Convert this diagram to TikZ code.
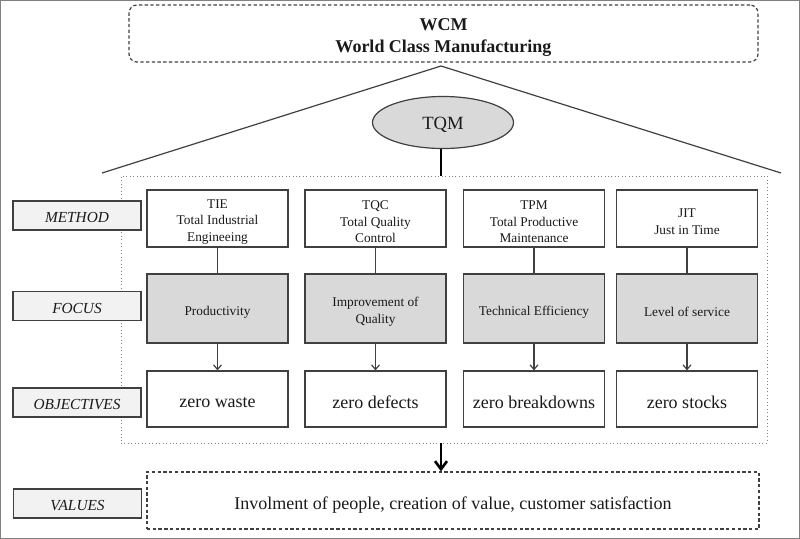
\documentclass[tikz,border=0pt]{standalone}
\usepackage{fontspec}
\setmainfont{Liberation Serif}
\usetikzlibrary{arrows.meta,shapes.geometric,shadows}
\definecolor{bordc}{HTML}{404040}
\definecolor{txtc}{HTML}{1A1A1A}
\definecolor{focfill}{HTML}{D9D9D9}
\definecolor{labfill}{HTML}{F2F2F2}
\definecolor{framec}{HTML}{808080}
\tikzset{
  every node/.style={text=txtc, inner sep=0pt, align=center},
  txtlab/.style={yshift=-2.6pt, align=center, inner sep=0pt, text=txtc},
  smalltext/.style={label={[txtlab, font=\fontsize{10}{12.5}\selectfont]center:{#1}}},
  bigtext/.style={label={[txtlab, font=\fontsize{13.5}{16}\selectfont]center:{#1}}},
  itext/.style={label={[txtlab, yshift=0.8pt, font=\fontsize{11.5}{14}\selectfont\itshape]center:{#1}}},
  methbox/.style={draw=bordc, line width=0.9pt, fill=white, minimum width=105.75pt, minimum height=42.75pt},
  focbox/.style={draw=bordc, line width=0.9pt, fill=focfill, minimum width=105.75pt, minimum height=51.75pt},
  objbox/.style={draw=bordc, line width=0.9pt, fill=white, minimum width=105.75pt, minimum height=42pt},
  labbox/.style={draw=bordc, line width=0.9pt, fill=labfill, minimum width=96pt, minimum height=21.75pt, drop shadow={shadow xshift=0.6pt, shadow yshift=-0.6pt, fill=black!45, opacity=0.6}},
  dashbox/.style={draw=bordc, dashed, dash pattern=on 2.5pt off 1.8pt, line width=0.9pt},
  link/.style={draw=bordc, line width=0.9pt},
  linkarrow/.style={draw=bordc, line width=0.9pt, -{Straight Barb[length=3.5pt,width=6pt]}},
}
\begin{document}
\begin{tikzpicture}[x=0.75pt,y=-0.75pt]
\useasboundingbox (0,0) rectangle (800,539);
\draw[framec, line width=1pt] (0.7,0.7) rectangle (799.3,538.3);

% WCM box
\node[dashbox, rounded corners=6pt, minimum width=471.75pt, minimum height=42.75pt,
  label={[txtlab, yshift=-0.4pt, font=\fontsize{13.5}{16.5}\selectfont\bfseries]center:{WCM\\World Class Manufacturing}}] (wcm) at (443.5,33.5) {};

% roof
\coordinate (apex) at (441,66);
\coordinate (roofL) at (102,173);
\coordinate (roofR) at (781,173);
\draw[bordc, line width=0.9pt] (roofL) -- (apex) -- (roofR);

% dotted container
\node[draw=framec, dotted, line width=0.6pt, minimum width=484.5pt, minimum height=200.25pt] (cont) at (444,309.5) {};

% TQM
\node[ellipse, draw=bordc, line width=0.9pt, fill=focfill, minimum width=105.75pt, minimum height=39pt,
  label={[txtlab, yshift=0.6pt, font=\fontsize{14}{16}\selectfont]center:TQM}] (tqm) at (443,122.5) {};
\draw[black, line width=2.2pt] (tqm.south -| apex) -- (cont.north -| apex);

% method
\node[methbox, smalltext={TIE\\Total Industrial\\Engineeing}] (m1) at (217.5,218.5) {};
\node[methbox, smalltext={TQC\\Total Quality\\Control}] (m2) at (375.5,218.5) {};
\node[methbox, smalltext={TPM\\Total Productive\\Maintenance}] (m3) at (534,218.5) {};
\node[methbox, smalltext={JIT\\Just in Time}] (m4) at (687,218.5) {};

% focus
\node[focbox, smalltext={Productivity}] (f1) at (217.5,308.5) {};
\node[focbox, smalltext={Improvement of\\Quality}] (f2) at (375.5,308.5) {};
\node[focbox, smalltext={Technical Efficiency}] (f3) at (534,308.5) {};
\node[focbox, smalltext={Level of service}] (f4) at (687,308.5) {};

% objectives
\node[objbox, bigtext={zero waste}] (o1) at (217.5,399) {};
\node[objbox, bigtext={zero defects}] (o2) at (375.5,399) {};
\node[objbox, bigtext={zero breakdowns}] (o3) at (534,399) {};
\node[objbox, bigtext={zero stocks}] (o4) at (687,399) {};

\foreach \i in {1,2,3,4} {
  \draw[link] (m\i.south) -- (f\i.north);
  \draw[linkarrow] (f\i.south) -- (o\i.north);
}

% labels
\node[labbox, itext={METHOD}] (lm) at (77,215.5) {};
\node[labbox, itext={FOCUS}] (lf) at (77,306) {};
\node[labbox, itext={OBJECTIVES}] (lo) at (77,402.5) {};
\node[labbox, itext={VALUES}] (lv) at (77.5,503.5) {};

% values
\node[dashbox, minimum width=459pt, minimum height=42.75pt,
  label={[txtlab, yshift=-1pt, font=\fontsize{13.5}{16}\selectfont]center:{Involment of people, creation of value, customer satisfaction}}] (val) at (453,500.5) {};
\draw[black, line width=2pt, -{Straight Barb[length=6pt,width=9pt]}] (cont.south -| apex) -- (val.north -| apex);
\end{tikzpicture}
\end{document}
